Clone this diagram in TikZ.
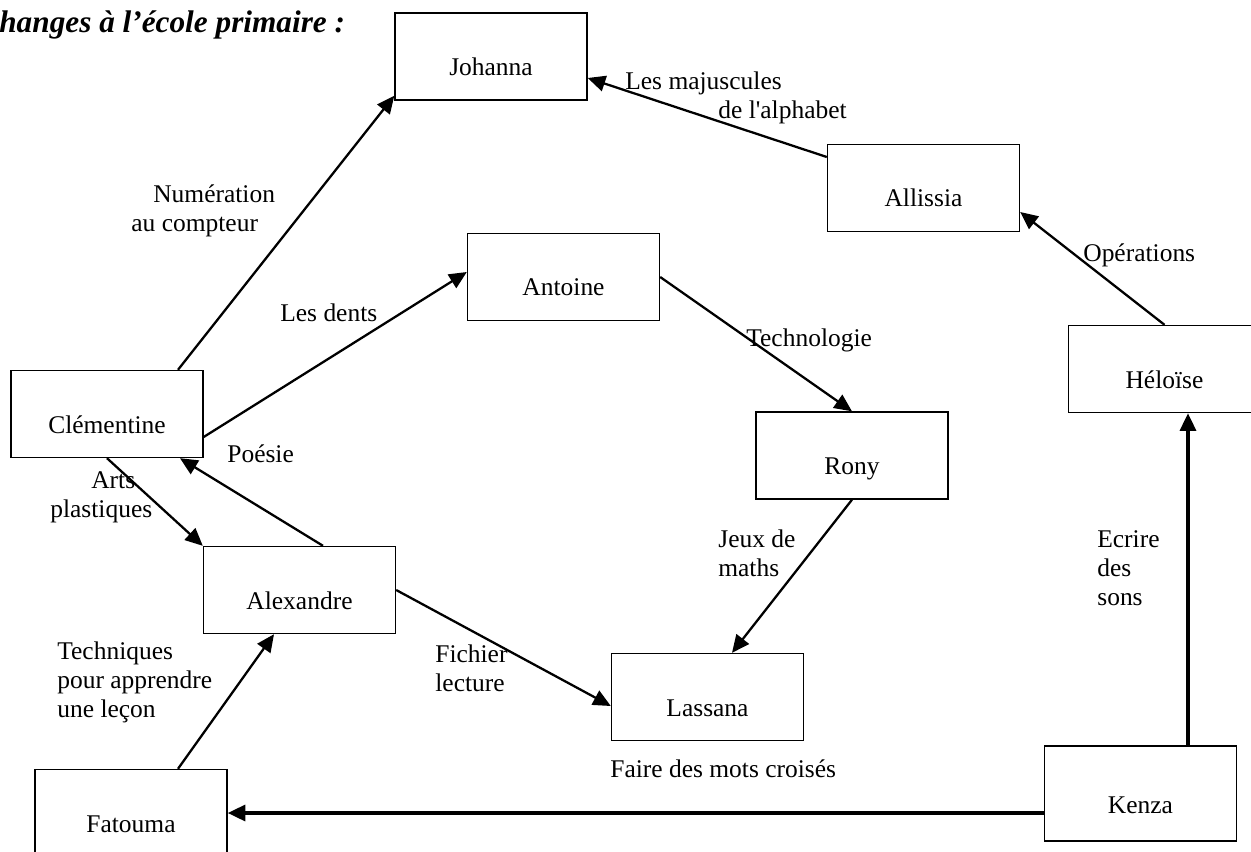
\documentclass[tikz,border=0pt]{standalone}
\usepackage{fontspec}
\setmainfont{Liberation Serif}
\usetikzlibrary{positioning, arrows.meta, calc}

\begin{document}
\begin{tikzpicture}[
    x=0.02cm, y=-0.02cm,
    pupil/.style={rectangle, draw, line width=0.8pt, minimum width=3.84cm, minimum height=1.74cm, inner sep=0pt, text height=0.76cm, text depth=0pt, font=\fontsize{14.5}{16.5}\selectfont},
    lbl/.style={inner sep=0pt, align=left, font=\fontsize{14.5}{16.5}\selectfont},
    arrow/.style={-{Triangle[length=10pt, width=9pt]}, line width=1.3pt},
    bigarrow/.style={arrow, line width=2pt}
]
    \useasboundingbox (0,0) rectangle (1251,852);

    \node[anchor=base west, inner sep=0pt, font=\fontsize{17.8}{21}\selectfont\bfseries\itshape] (title) at (-1,32) {hanges à l’école primaire :};

    \node[pupil] (johanna) at (491,56.5) {Johanna};
    \node[pupil] (allissia) at (923.5,188) {Allissia};
    \node[pupil] (antoine) at (563.5,277) {Antoine};
    \node[pupil] (clem) at (107,414) {Clémentine};
    \node[pupil] (rony) at (852,455.5) {Rony};
    \node[pupil] (heloise) at (1164.5,369) {Héloïse};
    \node[pupil] (alex) at (299.5,590) {Alexandre};
    \node[pupil] (lassana) at (707.5,697) {Lassana};
    \node[pupil] (fatouma) at (131,813) {Fatouma};
    \node[pupil, minimum height=1.9cm, text height=0.8cm] (kenza) at (1140.5,793.5) {Kenza};

    \coordinate (kup) at ([xshift=0.95cm]kenza.north);

    \draw[arrow] ([xshift=1.42cm]clem.north) -- ([yshift=0.1cm]johanna.south west);
    \draw[arrow] ([yshift=-0.46cm]clem.east) -- ([yshift=0.1cm]antoine.west);
    \draw[arrow] ([xshift=0.47cm]alex.north) -- ([xshift=1.46cm]clem.south);
    \draw[arrow] (clem.south) -- (alex.north west);
    \draw[arrow] ([xshift=0.94cm]fatouma.north) -- ([xshift=-0.51cm]alex.south);
    \draw[arrow] (alex.east) -- ([yshift=-0.18cm]lassana.west);
    \draw[arrow] (antoine.east) -- (rony.north);
    \draw[arrow] (rony.south) -- ([xshift=0.49cm]lassana.north);
    \draw[arrow] (heloise.north) -- ([yshift=-0.48cm]allissia.east);
    \draw[arrow] ([yshift=0.62cm]allissia.west) -- ([yshift=-0.43cm]johanna.east);
    \draw[bigarrow] (kup) -- (kup |- heloise.south);
    \draw[bigarrow] (kenza.west |- fatouma.east) -- (fatouma.east);

    \node[lbl, anchor=west] (lnum) at (131,211) {\hspace*{0.44cm}Numération\\au compteur};
    \node[lbl, anchor=west] (ldents) at (280,313) {Les dents};
    \node[lbl, anchor=west] (lpoesie) at (227,454) {Poésie};
    \node[lbl, anchor=west] (larts) at (50,497) {\hspace*{0.82cm}Arts\\plastiques};
    \node[lbl, anchor=west] (ltech) at (57,682) {Techniques\\pour apprendre\\une leçon};
    \node[lbl, anchor=west] (lfich) at (435,668) {Fichier\\lecture};
    \node[lbl, anchor=west] (ltechno) at (746,340) {Technologie};
    \node[lbl, anchor=west] (ljeux) at (718,553) {Jeux de\\maths};
    \node[lbl, anchor=west] (lops) at (1083,255) {Opérations};
    \node[lbl, anchor=west] (lecrire) at (1097,568) {Ecrire\\des\\sons};
    \node[lbl, anchor=west] (lmaj) at (625,98) {Les majuscules\\\hspace*{1.86cm}de l\textquotesingle alphabet};
    \node[lbl, anchor=west] (lmots) at (610,769) {Faire des mots croisés};
\end{tikzpicture}
\end{document}
